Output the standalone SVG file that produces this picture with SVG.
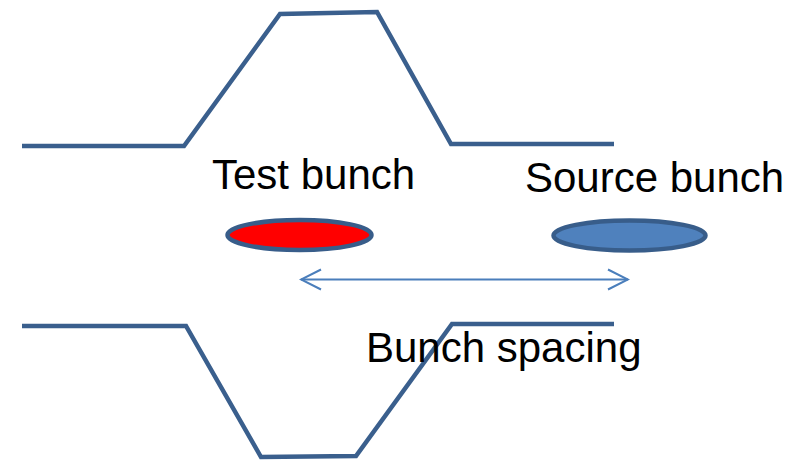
<svg xmlns="http://www.w3.org/2000/svg" width="800" height="460" viewBox="0 0 800 460">
  <defs>
    <style>
      .wall { fill: none; stroke: #3A5F8D; stroke-width: 4.5; stroke-linejoin: miter; }
      .bunch { stroke: #385D8A; stroke-width: 4.5; }
      .label { font-family: "Liberation Sans", Arial, sans-serif; font-size: 42px; fill: #000; }
      .dim { fill: none; stroke: #4A7EBB; stroke-width: 2; }
    </style>
    <marker id="chevron" viewBox="0 0 24 24" refX="22" refY="12" markerWidth="24" markerHeight="24" markerUnits="userSpaceOnUse" orient="auto-start-reverse">
      <path d="M2,2 L22,12 L2,22" fill="none" stroke="#4A7EBB" stroke-width="2"/>
    </marker>
  </defs>
  <rect width="800" height="460" fill="#fff"/>

  <!-- upper and lower chamber walls -->
  <g id="upper-wall">
    <polyline class="wall" points="22,146 184,146 280,14 377,12 451,144 614,144"/>
  </g>
  <g id="lower-wall">
    <polyline class="wall" points="22,326 186,326 261,457 356,456 452,324 614,324"/>
  </g>

  <!-- bunches -->
  <g id="test-bunch">
    <ellipse class="bunch" cx="299.5" cy="235" rx="72" ry="15" fill="#FF0000"/>
    <text class="label" x="212" y="189">Test bunch</text>
  </g>
  <g id="source-bunch">
    <ellipse class="bunch" cx="629.5" cy="235.5" rx="76" ry="15" fill="#4F81BD"/>
    <text class="label" x="525" y="192">Source bunch</text>
  </g>

  <!-- spacing dimension -->
  <g id="connectors">
    <line class="dim" x1="301" y1="279.5" x2="628" y2="279.5" marker-start="url(#chevron)" marker-end="url(#chevron)"/>
  </g>
  <g id="spacing-label">
    <text class="label" x="366" y="362">Bunch spacing</text>
  </g>
</svg>
